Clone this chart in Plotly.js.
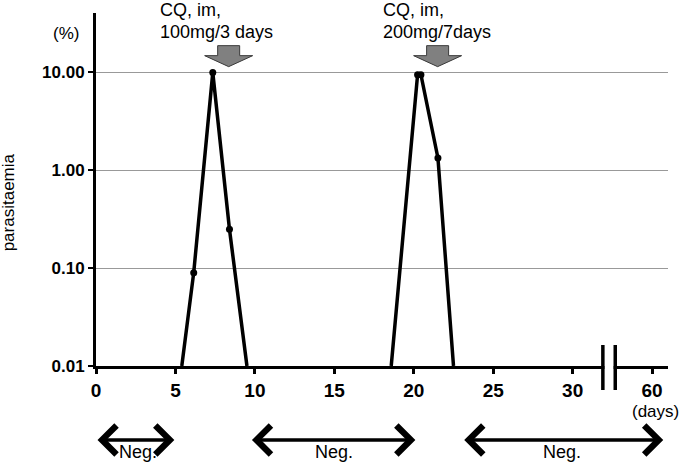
<!DOCTYPE html>
<html>
<head>
<meta charset="utf-8">
<script src="https://cdn.plot.ly/plotly-3.0.1.min.js"></script>
<style>
  html, body { margin: 0; padding: 0; background: #fff; }
  #chart { width: 685px; height: 464px; }
</style>
</head>
<body>
<div id="chart"></div>
<script>
// episode 1 and episode 2 (day, % parasitaemia)
var days1 = [5.4, 6.15, 7.35, 8.4, 9.5];
var para1 = [0.01, 0.09, 10, 0.25, 0.01];
var days2 = [18.58, 20.24, 20.45, 21.52, 22.5];
var para2 = [0.01, 9.5, 9.5, 1.34, 0.01];

// axis ticks (60 drawn after the break)
var xTickVals = [0, 5, 10, 15, 20, 25, 30, 35];
var xTickText = ['0', '5', '10', '15', '20', '25', '30', '60'];
var yTickVals = [0.01, 0.1, 1, 10];
var yTickText = ['0.01', '0.10', '1.00', '10.00'];

// treatments
var treatDay = [8.35, 21.5];
var treatLabelX = [3.92, 17.92];
var treatLine1 = ['CQ, im,', 'CQ, im,'];
var treatLine2 = ['100mg/3 days', '200mg/7days'];

// negative periods
var negStart = [0, 9.72, 23.08];
var negEnd = [4.93, 20.1, 35.7];
var negLabelX = [2.67, 14.95, 29.3];

var breakDays = [31.9, 32.68];

var FONT = 'Liberation Sans, Arial, sans-serif';

function detected(d, p) {
  var x = [], y = [];
  for (var i = 0; i < p.length; i++) {
    if (p[i] > 0.01) { x.push(d[i]); y.push(p[i]); }
  }
  return {x: x, y: y};
}

var data = [];
[[days1, para1], [days2, para2]].forEach(function (ep) {
  data.push({
    x: ep[0], y: ep[1], mode: 'lines', type: 'scatter',
    line: {color: '#000', width: 3.5}, hoverinfo: 'skip'
  });
  var d = detected(ep[0], ep[1]);
  data.push({
    x: d.x, y: d.y, mode: 'markers', type: 'scatter',
    marker: {color: '#000', size: 7}, hoverinfo: 'skip'
  });
});

var annotations = [
  {text: '(%)', xref: 'paper', yref: 'paper', x: -0.052, y: 0.943,
   xanchor: 'center', yanchor: 'middle', showarrow: false, font: {size: 17}},
  {text: 'parasitaemia', xref: 'paper', yref: 'paper', x: -0.153, y: 0.465,
   xanchor: 'center', yanchor: 'middle', textangle: -90, showarrow: false, font: {size: 17}},
  {text: '(days)', xref: 'x', yref: 'paper', x: 35.2, y: -0.1275,
   xanchor: 'center', yanchor: 'middle', showarrow: false, font: {size: 17}}
];

var shapes = [];

for (var i = 0; i < treatDay.length; i++) {
  annotations.push({text: treatLine1[i], xref: 'x', yref: 'paper', x: treatLabelX[i],
    y: 1.0085, xanchor: 'left', yanchor: 'middle', showarrow: false, font: {size: 18}});
  annotations.push({text: treatLine2[i], xref: 'x', yref: 'paper', x: treatLabelX[i],
    y: 0.946, xanchor: 'left', yanchor: 'middle', showarrow: false, font: {size: 18}});
  shapes.push({
    type: 'path', xref: 'x', yref: 'paper', xsizemode: 'pixel', ysizemode: 'pixel',
    xanchor: treatDay[i], yanchor: 0.848, layer: 'above',
    path: 'M -11,21 L 11,21 L 11,11 L 24,11 L 0,0 L -24,11 L -11,11 Z',
    fillcolor: '#808080', line: {color: '#3a3a3a', width: 1}
  });
}

for (var j = 0; j < negStart.length; j++) {
  annotations.push({
    text: '', xref: 'x', yref: 'paper', x: negEnd[j], y: -0.2096,
    axref: 'x', ax: negStart[j], ayref: 'pixel', ay: 0,
    showarrow: true, arrowside: 'end+start', arrowhead: 4, arrowsize: 1.6,
    arrowwidth: 3.5, arrowcolor: '#000'
  });
  annotations.push({text: 'Neg.', xref: 'x', yref: 'paper', x: negLabelX[j], y: -0.2436,
    xanchor: 'center', yanchor: 'middle', showarrow: false, font: {size: 18}});
}

// axis break
shapes.push({type: 'rect', xref: 'x', yref: 'paper', x0: breakDays[0] + 0.1, x1: breakDays[1] - 0.1,
  y0: -0.02, y1: 0.02, fillcolor: '#fff', line: {width: 0}, layer: 'above'});
breakDays.forEach(function (b) {
  shapes.push({type: 'line', xref: 'x', yref: 'paper', x0: b, x1: b, y0: -0.068, y1: 0.0595,
    line: {color: '#000', width: 3.5}, layer: 'above'});
});

var layout = {
  width: 685, height: 464,
  margin: {l: 96, r: 17, t: 13, b: 98},
  paper_bgcolor: '#fff', plot_bgcolor: '#fff',
  showlegend: false,
  font: {family: FONT, color: '#000', size: 17},
  xaxis: {
    range: [0, 36], tickvals: xTickVals, ticktext: xTickText,
    showline: true, linecolor: '#000', linewidth: 3,
    ticks: 'outside', ticklen: 5, tickwidth: 3, tickcolor: '#000',
    showgrid: false, zeroline: false,
    tickfont: {family: FONT, size: 19, weight: 'bold'}
  },
  yaxis: {
    type: 'log', range: [-2, 1.608], tickvals: yTickVals, ticktext: yTickText,
    showline: true, linecolor: '#000', linewidth: 3,
    ticks: 'outside', ticklen: 5, tickwidth: 2, tickcolor: '#000',
    showgrid: true, gridcolor: '#999', gridwidth: 1.2, zeroline: false,
    tickfont: {family: FONT, size: 17, weight: 'bold'}
  },
  annotations: annotations,
  shapes: shapes
};

Plotly.newPlot('chart', data, layout, {displayModeBar: false, staticPlot: true});
</script>
</body>
</html>
